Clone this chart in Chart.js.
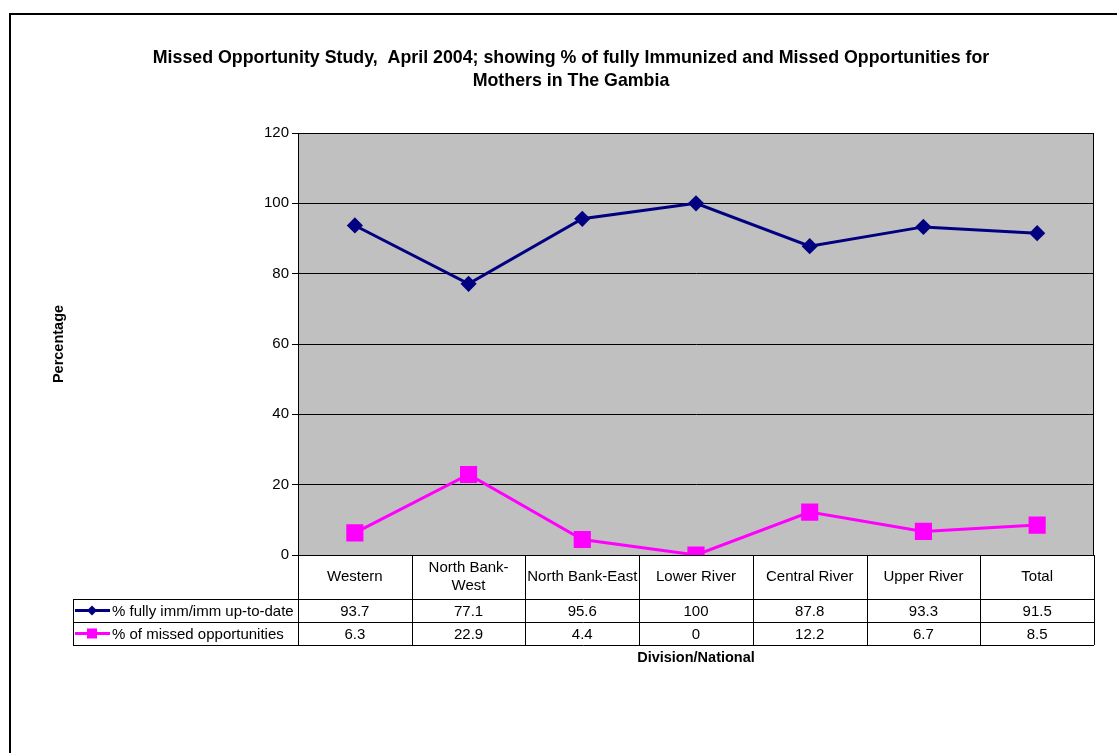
<!DOCTYPE html>
<html>
<head>
<meta charset="utf-8">
<script src="https://cdn.jsdelivr.net/npm/chart.js@4"></script>
<style>
  body { margin: 0; background: #fff; }
</style>
</head>
<body>
<canvas id="lineCanvas" width="1117" height="753"></canvas>
<script>
const categories = ["Western", ["North Bank-", "West"], "North Bank-East", "Lower River", "Central River", "Upper River", "Total"]
const immunized = [93.7, 77.1, 95.6, 100, 87.8, 93.3, 91.5]
const missed = [6.3, 22.9, 4.4, 0, 12.2, 6.7, 8.5]
const seriesNames = ["% fully imm/imm up-to-date", "% of missed opportunities"]
const yTicks = [0, 20, 40, 60, 80, 100, 120]

const FONT = '"Liberation Sans", Arial, sans-serif'
const NAVY = "#000080"
const MAGENTA = "#FF00FF"

// frame, grey plot area, titles, data table under the plot
const excelLook = {
    id: "excelLook",
    beforeDraw(chart) {
        const ctx = chart.ctx
        const a = chart.chartArea
        ctx.save()
        ctx.fillStyle = "#fff"
        ctx.fillRect(0, 0, chart.width, chart.height)
        ctx.strokeStyle = "#000"
        ctx.lineWidth = 2
        ctx.strokeRect(10, 14, chart.width + 20, chart.height + 20)
        ctx.fillStyle = "#C0C0C0"
        ctx.fillRect(a.left, a.top, a.right - a.left, a.bottom - a.top)
        ctx.restore()
    },
    afterDraw(chart) {
        const ctx = chart.ctx
        const a = chart.chartArea
        const x = chart.scales.x
        const colW = (a.right - a.left) / categories.length
        const rowTop = a.bottom, row1 = 599, row2 = 622, rowEnd = 645, legLeft = 73

        ctx.save()
        ctx.strokeStyle = "#000"
        ctx.lineWidth = 1
        ctx.strokeRect(a.left + 0.5, a.top + 0.5, a.right - a.left - 1, a.bottom - a.top)

        ctx.beginPath()
        ;[row1, row2, rowEnd].forEach(y => {
            ctx.moveTo(legLeft, y + 0.5)
            ctx.lineTo(a.right, y + 0.5)
        })
        ctx.moveTo(legLeft + 0.5, row1)
        ctx.lineTo(legLeft + 0.5, rowEnd)
        for (let k = 0; k <= categories.length; k++) {
            const cx = Math.round(a.left + k * colW) + 0.5
            ctx.moveTo(cx, rowTop)
            ctx.lineTo(cx, rowEnd)
        }
        ctx.stroke()

        ctx.fillStyle = "#000"
        ctx.font = "15px " + FONT
        ctx.textAlign = "center"
        ctx.textBaseline = "middle"
        categories.forEach((c, i) => {
            const cx = x.getPixelForValue(i)
            const lines = Array.isArray(c) ? c : [c]
            const mid = (rowTop + row1) / 2
            lines.forEach((t, j) => {
                ctx.fillText(t, cx, mid + (j - (lines.length - 1) / 2) * 18)
            })
            ctx.fillText(String(immunized[i]), cx, (row1 + row2) / 2 + 1)
            ctx.fillText(String(missed[i]), cx, (row2 + rowEnd) / 2 + 1)
        })

        // legend keys in the table
        const keys = [
            { y: (row1 + row2) / 2, color: NAVY, shape: "diamond" },
            { y: (row2 + rowEnd) / 2, color: MAGENTA, shape: "square" }
        ]
        keys.forEach((k, i) => {
            ctx.strokeStyle = k.color
            ctx.lineWidth = 3
            ctx.beginPath()
            ctx.moveTo(75, k.y)
            ctx.lineTo(110, k.y)
            ctx.stroke()
            ctx.fillStyle = k.color
            ctx.beginPath()
            if (k.shape === "diamond") {
                ctx.moveTo(92, k.y - 5)
                ctx.lineTo(97, k.y)
                ctx.lineTo(92, k.y + 5)
                ctx.lineTo(87, k.y)
                ctx.closePath()
                ctx.fill()
            } else {
                ctx.fillRect(87, k.y - 5, 10, 10)
            }
            ctx.fillStyle = "#000"
            ctx.textAlign = "left"
            ctx.fillText(seriesNames[i], 112, k.y + 1)
        })

        // titles
        ctx.textAlign = "center"
        ctx.font = "bold 17.8px " + FONT
        ctx.fillText("Missed Opportunity Study,  April 2004; showing % of fully Immunized and Missed Opportunities for", 571, 58)
        ctx.fillText("Mothers in The Gambia", 571, 81)
        ctx.font = "bold 14.5px " + FONT
        ctx.fillText("Division/National", (a.left + a.right) / 2, 658)
        ctx.translate(59, (a.top + a.bottom) / 2)
        ctx.rotate(-Math.PI / 2)
        ctx.fillText("Percentage", 0, 0)
        ctx.restore()
    }
}

const lineCanvas = document.getElementById("lineCanvas")

const lineChart = new Chart(lineCanvas, {
    type: "line",
    data: {
        labels: categories,
        datasets: [{
            label: seriesNames[0],
            data: immunized,
            borderColor: NAVY,
            backgroundColor: NAVY,
            borderWidth: 3,
            pointStyle: "rectRot",
            pointRadius: 6,
            pointHoverRadius: 6,
            tension: 0
        }, {
            label: seriesNames[1],
            data: missed,
            borderColor: MAGENTA,
            backgroundColor: MAGENTA,
            borderWidth: 3,
            pointStyle: "rect",
            pointRadius: 10,
            pointHoverRadius: 10,
            tension: 0
        }]
    },
    options: {
        responsive: false,
        animation: false,
        layout: {
            padding: { top: 133, left: 15, right: 23, bottom: 198 }
        },
        plugins: {
            legend: { display: false },
            tooltip: { enabled: false }
        },
        scales: {
            x: {
                display: false,
                offset: true
            },
            y: {
                min: 0,
                max: 120,
                afterFit(scale) { scale.width = 283 },
                afterBuildTicks(scale) { scale.ticks = yTicks.map(v => ({ value: v })) },
                grid: {
                    color: "#000",
                    lineWidth: 1,
                    drawTicks: true,
                    tickLength: 6
                },
                border: { color: "#000" },
                ticks: {
                    color: "#000",
                    padding: 3,
                    font: { size: 15, family: FONT }
                }
            }
        }
    },
    plugins: [excelLook]
})
</script>
</body>
</html>
